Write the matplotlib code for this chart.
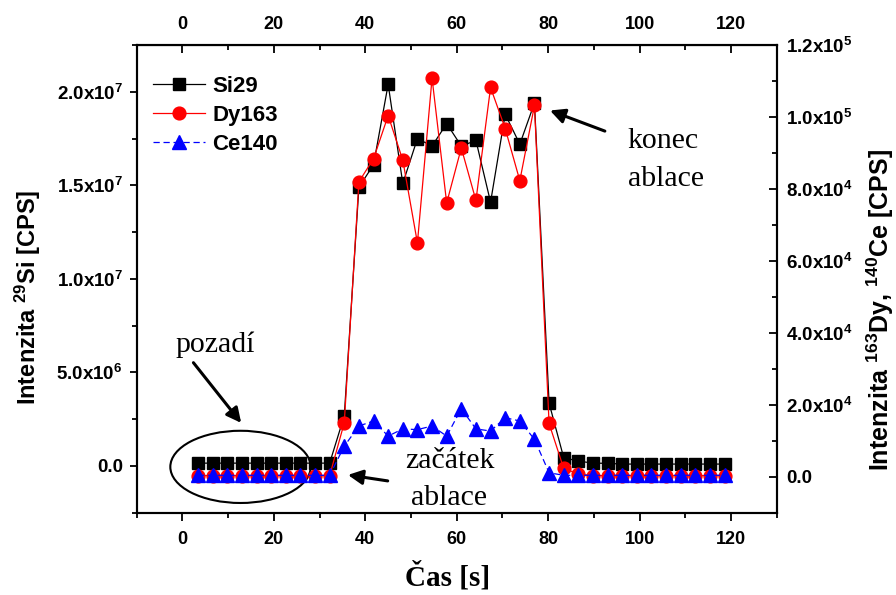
import math
import matplotlib
matplotlib.use('Agg')
import matplotlib.pyplot as plt
from matplotlib.patches import Ellipse
from matplotlib.ticker import MultipleLocator, FuncFormatter

# cas mereni [s]
cas = [3.4, 6.6, 9.8, 13.0, 16.2, 19.4, 22.6, 25.8, 29.0, 32.2,
       35.4, 38.6, 41.8, 45.0, 48.2, 51.4, 54.6, 57.8, 61.0, 64.2,
       67.4, 70.6, 73.8, 77.0, 80.2, 83.4, 86.6, 89.8, 93.0, 96.2,
       99.4, 102.6, 105.8, 109.0, 112.2, 115.4, 118.6]

# 29Si - leva osa
si29 = [1.5e5, 1.5e5, 1.5e5, 1.5e5, 1.5e5, 1.5e5, 1.5e5, 1.5e5, 1.5e5, 1.5e5,
        2.68e6, 1.49e7, 1.61e7, 2.04e7, 1.51e7, 1.75e7, 1.71e7, 1.83e7, 1.71e7, 1.74e7,
        1.41e7, 1.88e7, 1.72e7, 1.94e7, 3.36e6, 4.4e5, 2.6e5, 1.5e5, 1.4e5, 1.0e5,
        1.0e5, 1.0e5, 1.0e5, 1.0e5, 1.0e5, 1.0e5, 1.0e5]

# 163Dy a 140Ce - prava osa
dy163 = [300, 300, 300, 300, 300, 300, 300, 300, 300, 300,
         15000, 82000, 88400, 100400, 88000, 65000, 110800, 76100, 91400, 76800,
         108200, 96800, 82300, 103200, 14800, 2300, 800, 300, 300, 300,
         300, 300, 300, 300, 300, 300, 300]
ce140 = [400, 400, 400, 400, 400, 400, 400, 400, 400, 400,
         8500, 14100, 15500, 11300, 13300, 13100, 14100, 11300, 18900, 13300,
         12700, 16400, 15500, 10400, 1100, 400, 400, 400, 400, 400,
         400, 400, 400, 400, 400, 400, 400]

x_ticks = [0, 20, 40, 60, 80, 100, 120]

plt.rcParams['font.family'] = 'Liberation Sans'
plt.rcParams['mathtext.fontset'] = 'custom'
plt.rcParams['mathtext.rm'] = 'Liberation Sans:bold'
plt.rcParams['mathtext.it'] = 'Liberation Sans:bold'
plt.rcParams['mathtext.bf'] = 'Liberation Sans:bold'


def sci(v, pos):
    if abs(v) < 1e-9:
        return '0.0'
    e = int(math.floor(math.log10(abs(v)) + 1e-9))
    m = v / 10 ** e
    return '%.1fx10$^{%d}$' % (m, e)


fig = plt.figure(figsize=(8.96, 5.95), dpi=100)
ax = fig.add_axes([0.1526, 0.1383, 0.7143, 0.786])
ax2 = ax.twinx()

h1, = ax.plot(cas, si29, '-s', color='black', lw=0.9, ms=8.6, mec='black', label='Si29')
h2, = ax2.plot(cas, dy163, '-o', color='red', lw=0.9, ms=9.2, mec='red', label='Dy163')
h3, = ax2.plot(cas, ce140, '^', ls=(0, (5, 3)), color='blue', lw=0.9, ms=9.6, mec='blue', label='Ce140')

ax.set_xlim(-10, 130)
ax.set_ylim(-2.5e6, 2.25e7)

ax.xaxis.set_major_locator(MultipleLocator(20))
ax.xaxis.set_minor_locator(MultipleLocator(10))
ax.yaxis.set_major_locator(MultipleLocator(5e6))
ax.yaxis.set_minor_locator(MultipleLocator(2.5e6))
ax.yaxis.set_major_formatter(FuncFormatter(sci))
ax2.yaxis.set_major_locator(MultipleLocator(2e4))
ax2.yaxis.set_minor_locator(MultipleLocator(1e4))
ax2.yaxis.set_major_formatter(FuncFormatter(sci))
ax2.set_ylim(-1e4, 1.2e5)

for a in (ax, ax2):
    for s in a.spines.values():
        s.set_linewidth(1.5)

ax.tick_params(axis='x', which='major', direction='out', length=6, width=1.3, labelsize=13, pad=7)
ax.tick_params(axis='x', which='minor', direction='out', length=3.5, width=1.3)
ax.tick_params(axis='y', which='major', direction='out', length=5, width=1.3, labelsize=13.5, pad=5)
ax.tick_params(axis='y', which='minor', direction='out', length=3.5, width=1.3)
ax2.tick_params(axis='y', which='major', direction='in', length=6, width=1.3, labelsize=13.5, pad=7)
ax2.tick_params(axis='y', which='minor', direction='in', length=3.5, width=1.3)
for lab in ax.get_xticklabels() + ax.get_yticklabels() + ax2.get_yticklabels():
    lab.set_fontweight('bold')

top = ax.secondary_xaxis('top')
top.set_xticks(x_ticks)
top.xaxis.set_minor_locator(MultipleLocator(10))
top.tick_params(axis='x', which='major', direction='in', length=6, width=1.3, labelsize=13, pad=9)
top.tick_params(axis='x', which='minor', direction='in', length=3.5, width=1.3)
for lab in top.get_xticklabels():
    lab.set_fontweight('bold')

fig.text(0.5, 1 - 577 / 595, 'Čas [s]', family='Liberation Serif', weight='bold',
         fontsize=21, ha='center', va='center')
fig.text(28 / 896, 1 - 297 / 595, 'Intenzita $^{29}$Si [CPS]', rotation=90,
         fontsize=17, weight='bold', ha='center', va='center')
fig.text(880 / 896, 1 - 310 / 595, 'Intenzita $^{163}$Dy, $^{140}$Ce [CPS]', rotation=90,
         fontsize=18, weight='bold', ha='center', va='center')

# popisky
ax.add_patch(Ellipse((12.7, -5e4), 30.7, 3.86e6, fill=False, lw=1.5, ec='black'))
arrow = dict(arrowstyle='-|>', color='black', lw=2.2, mutation_scale=22, shrinkA=0, shrinkB=0)
ax.text(7.2, 6.48e6, 'pozadí', family='Liberation Serif', fontsize=21.5, ha='center', va='center')
ax.annotate('', xy=(12.85, 2.3e6), xytext=(2.4, 5.52e6), arrowprops=arrow)
ax.text(58.4, -7.5e5, 'začátek\nablace', family='Liberation Serif', fontsize=21.5,
        ha='center', va='center', multialignment='center', linespacing=1.55)
ax.annotate('', xy=(36.2, -4.8e5), xytext=(44.9, -8.0e5), arrowprops=arrow)
ax.text(97.4, 1.633e7, 'konec\nablace', family='Liberation Serif', fontsize=21.5,
        ha='left', va='center', multialignment='left', linespacing=1.6)
ax.annotate('', xy=(80.4, 1.9e7), xytext=(92.4, 1.79e7), arrowprops=arrow)

leg = ax2.legend([h1, h2, h3], ['Si29', 'Dy163', 'Ce140'], loc='upper left',
                 bbox_to_anchor=(0.0084, 0.957), frameon=False, borderpad=0,
                 handlelength=2.35, handletextpad=0.32, labelspacing=0.36,
                 prop={'family': 'Liberation Sans', 'weight': 'bold', 'size': 16})

fig.savefig('out.png', dpi=100)
